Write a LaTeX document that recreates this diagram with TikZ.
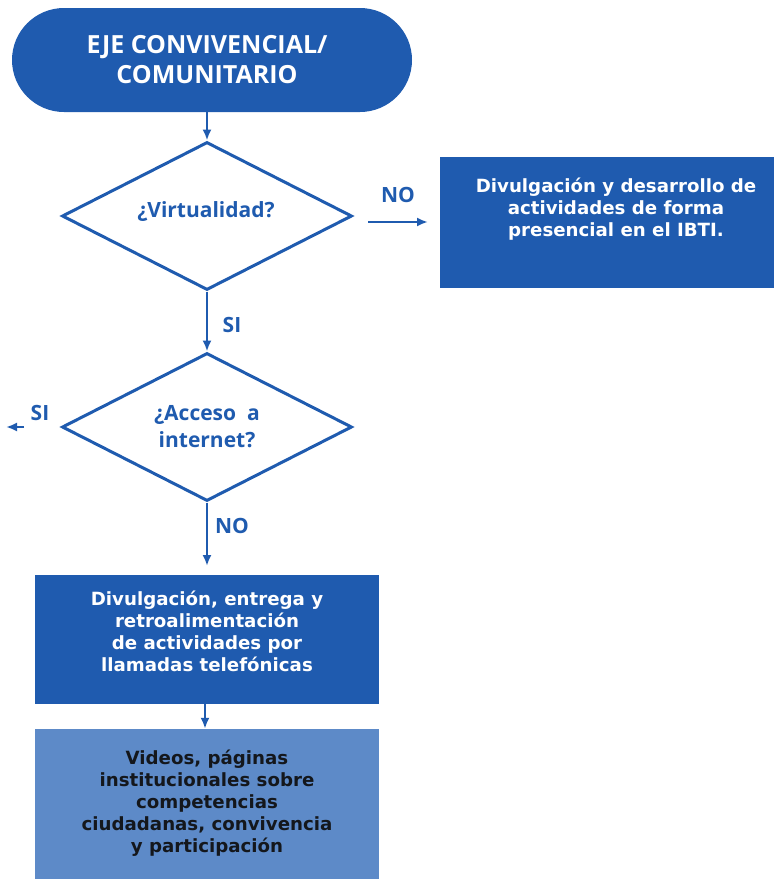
\documentclass[tikz,border=0pt]{standalone}
\usepackage{fontspec}
\setmainfont{DejaVu Sans}
\newfontfamily\hdfont{Open Sans}
\usetikzlibrary{shapes.geometric,arrows.meta}
\definecolor{dblue}{HTML}{1F5BAF}
\definecolor{lblue}{HTML}{5D8AC8}
\definecolor{dtext}{HTML}{14171C}
\tikzset{
  conn/.style={draw=dblue,line width=2.3pt,-{Latex[length=11pt,width=9pt]}},
  lbl/.style={text=dblue,font=\hdfont\fontsize{21}{23}\selectfont\bfseries},
  boxtxt/.style={font=\fontsize{18.2}{22}\selectfont\bfseries,align=center},
  dia/.style={draw=dblue,line width=3pt,fill=white,diamond,inner sep=0pt,minimum width=290pt,minimum height=148pt,aspect=2},
}
\begin{document}
\begin{tikzpicture}[x=1pt,y=-1pt]
\useasboundingbox (0,0) rectangle (774,879);
% top terminator
\node[draw=none,fill=dblue,rounded corners=52pt,minimum width=400pt,minimum height=104pt,inner sep=0pt] (start) at (212,60) {};
\node[text=white,font=\hdfont\fontsize{25}{30}\selectfont\bfseries,align=center] (starttxt) at (207,60) {EJE CONVIVENCIAL/\\COMUNITARIO};
% diamond 1
\node[dia] (d1) at (207,216) {};
\node[lbl,text=dblue] (d1txt) at (206,212) {¿Virtualidad?};
% right box
\node[fill=dblue,minimum width=334pt,minimum height=131pt,inner sep=0pt] (rbox) at (607,222.5) {};
\node[boxtxt,text=white,anchor=north] (rboxtxt) at (616,174) {Divulgación y desarrollo de\\actividades de forma\\presencial en el IBTI.};
% diamond 2
\node[dia] (d2) at (207,427) {};
\node[lbl,align=center,font=\hdfont\fontsize{21}{27}\selectfont\bfseries] (d2txt) at (207,427) {¿Acceso\ \ a\\internet?};
% box 2
\node[fill=dblue,minimum width=344pt,minimum height=129pt,inner sep=0pt] (b2) at (207,639.5) {};
\node[boxtxt,text=white,anchor=north] (b2txt) at (207,587) {Divulgación, entrega y\\retroalimentación\\de actividades por\\llamadas telefónicas};
% box 3
\node[fill=lblue,minimum width=344pt,minimum height=152pt,inner sep=0pt] (b3) at (207,805) {};
\node[boxtxt,text=dtext,anchor=north] (b3txt) at (207,746) {Videos, páginas\\institucionales sobre\\competencias\\ciudadanas, convivencia\\y participación};
% coordinates
\coordinate (noA) at (368,222);
\coordinate (noB) at (428,222);
\coordinate (siA) at (24,427);
\coordinate (siB) at (6,427);
\coordinate (noC) at (207,566);
% connectors
\draw[conn] (start.south -| d1.north) -- (d1.north);
\draw[conn] (noA) -- (noB);
\draw[conn] (d1.south) -- (d2.north);
\draw[conn] (siA) -- (siB);
\draw[conn] (d2.south) -- (noC);
\draw[conn] (b2.south -| 205,0) -- (b3.north -| 205,0);
% labels
\node[lbl] (lno1) at (398,195) {NO};
\node[lbl] (lsi1) at (232,325) {SI};
\node[lbl] (lsi2) at (40,413) {SI};
\node[lbl] (lno2) at (232,526) {NO};
\end{tikzpicture}
\end{document}
